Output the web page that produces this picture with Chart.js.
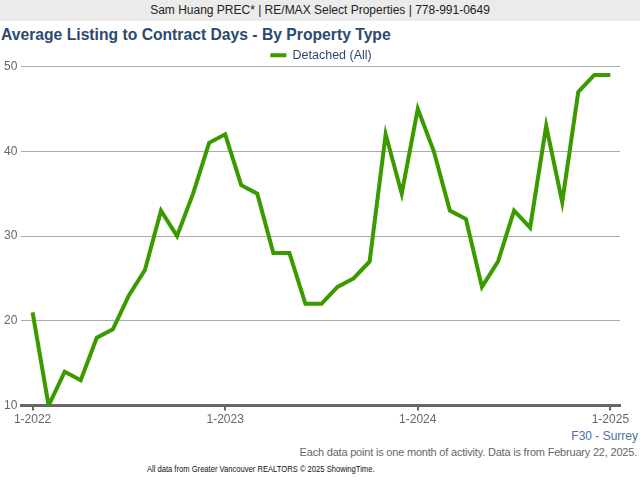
<!DOCTYPE html>
<html>
<head>
<meta charset="utf-8">
<script src="https://cdn.jsdelivr.net/npm/chart.js@4"></script>
<style>
  body { margin: 0; width: 640px; height: 480px; background: #fff; font-family: Arial, "Liberation Sans", sans-serif; position: relative; overflow: hidden; }
  .banner { position: absolute; left: 0; top: 0; width: 640px; height: 21px; background: #ebebeb; color: #222; font-size: 12px; line-height: 21px; text-align: center; }
  .title { position: absolute; left: 1px; top: 26px; color: #2b4a6f; font-size: 15.7px; font-weight: bold; white-space: nowrap; }
  .area { position: absolute; right: 2px; top: 429px; color: #4a73a3; font-size: 12px; }
  .note { position: absolute; right: 3px; top: 446px; color: #666; font-size: 11px; letter-spacing: -0.2px; white-space: nowrap; }
  .credit { position: absolute; left: 0; width: 522px; top: 463px; text-align: center; white-space: nowrap; font-size: 9px; line-height: 12px; }
  .credit span { display: inline-block; color: #111; transform: scaleX(0.845); }
  .wrap { position: absolute; left: 0; top: 45px; width: 640px; height: 384px; }
</style>
</head>
<body>
<div class="banner">Sam Huang PREC* | RE/MAX Select Properties | 778-991-0649</div>
<div class="title">Average Listing to Contract Days - By Property Type</div>
<div class="wrap"><canvas id="chart"></canvas></div>
<div class="area">F30 - Surrey</div>
<div class="note">Each data point is one month of activity. Data is from February 22, 2025.</div>
<div class="credit"><span>All data from Greater Vancouver REALTORS © 2025 ShowingTime.</span></div>
<script>
// months Jan 2022 .. Jan 2025
let months = ["1-2022","2-2022","3-2022","4-2022","5-2022","6-2022","7-2022","8-2022","9-2022","10-2022","11-2022","12-2022",
              "1-2023","2-2023","3-2023","4-2023","5-2023","6-2023","7-2023","8-2023","9-2023","10-2023","11-2023","12-2023",
              "1-2024","2-2024","3-2024","4-2024","5-2024","6-2024","7-2024","8-2024","9-2024","10-2024","11-2024","12-2024",
              "1-2025"]
let detached = [21, 10, 14, 13, 18, 19, 23, 26, 33, 30, 35, 41,
                42, 36, 35, 28, 28, 22, 22, 24, 25, 27, 42, 35,
                45, 40, 33, 32, 24, 27, 33, 31, 43, 34, 47, 49,
                49]
let yearTicks = [0, 12, 24, 36]

Chart.defaults.font.family = "Arial, 'Liberation Sans', sans-serif"
Chart.defaults.color = "#666"

// pull the plot a bit closer to the legend, and center the legend on the page
let tightLegend = {
    id: "tightLegend",
    beforeInit(chart) {
        let fit = chart.legend.fit
        chart.legend.fit = function () {
            fit.call(this)
            this.height -= 5
        }
    },
    afterLayout(chart) {
        chart.legend.left += 11
        chart.legend.right += 11
    }
}

let ctx = document.getElementById("chart").getContext("2d")

new Chart(ctx, {
    type: "line",
    data: {
        datasets: [{
            label: "Detached (All)",
            data: detached.map((v, i) => ({x: i, y: v})),
            borderColor: "#3a9a00",
            backgroundColor: "#3a9a00",
            borderWidth: 4,
            pointRadius: 0,
            tension: 0
        }]
    },
    plugins: [tightLegend],
    options: {
        responsive: true,
        maintainAspectRatio: false,
        animation: false,
        layout: { padding: { left: 0, right: 20, top: 0, bottom: 0 } },
        plugins: {
            tooltip: { enabled: false },
            legend: {
                labels: {
                    boxWidth: 16,
                    boxHeight: 4,
                    color: "#2b4a6f",
                    font: { size: 12.5 },
                    padding: 4,
                    generateLabels: (chart) => Chart.defaults.plugins.legend.labels.generateLabels(chart)
                        .map(l => ({...l, lineWidth: 0}))
                }
            }
        },
        scales: {
            x: {
                type: "linear",
                min: -0.7,
                max: 36.6,
                afterBuildTicks: (axis) => {
                    axis.ticks = yearTicks.map(v => ({value: v}))
                },
                ticks: {
                    callback: (v) => months[v],
                    font: { size: 12 },
                    padding: 2,
                    maxRotation: 0
                },
                grid: {
                    drawOnChartArea: false,
                    color: "#666",
                    lineWidth: 2,
                    tickLength: 5
                },
                border: { color: "#666", width: 3 }
            },
            y: {
                min: 10,
                max: 50,
                ticks: { stepSize: 10, font: { size: 12 }, padding: 4 },
                grid: { color: "#aaa", drawTicks: false },
                border: { display: false }
            }
        }
    }
})
</script>
</body>
</html>
